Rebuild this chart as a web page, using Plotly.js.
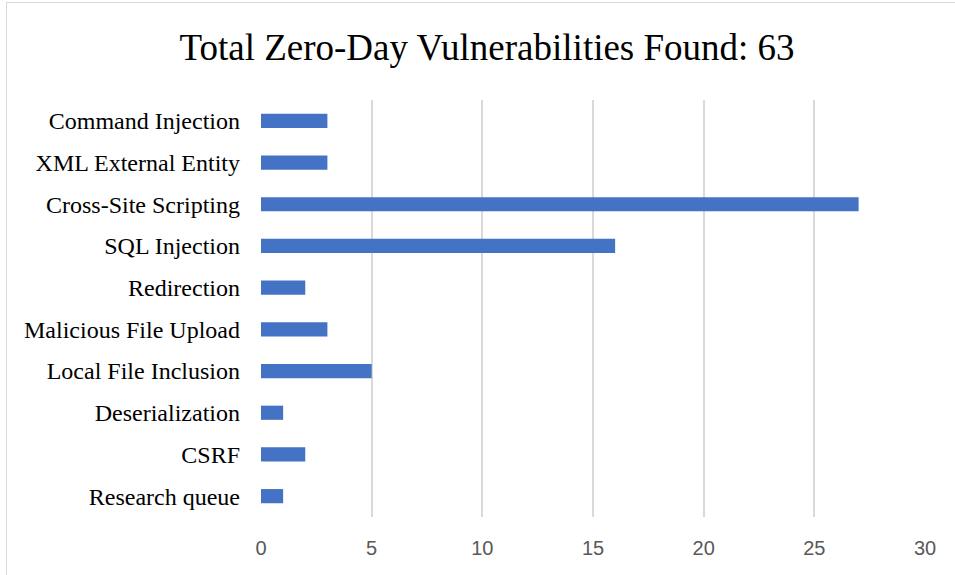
<!DOCTYPE html>
<html>
<head>
<meta charset="utf-8">
<script src="https://cdn.plot.ly/plotly-3.0.1.min.js"></script>
<style>
body{margin:0;padding:0;background:#fff;}
#wrap{position:relative;width:955px;height:575px;overflow:hidden;}
#chart{width:955px;height:575px;}
#frame{position:absolute;left:6px;top:2px;width:1000px;height:1000px;border:1.5px solid #d9d9d9;pointer-events:none;}
</style>
</head>
<body>
<div id="wrap"><div id="chart"></div><div id="frame"></div></div>
<script>
const categories = ["Research queue","CSRF","Deserialization","Local File Inclusion","Malicious File Upload","Redirection","SQL Injection","Cross-Site Scripting","XML External Entity","Command Injection"];
const counts = [1,2,1,5,3,2,16,27,3,3];
const titleText = "Total Zero-Day Vulnerabilities Found: 63";
const xTicks = [0,5,10,15,20,25,30];

Plotly.newPlot('chart',[{
  type:'bar',
  orientation:'h',
  y:categories,
  x:counts,
  marker:{color:'#4472c4'},
  hoverinfo:'x+y'
}],{
  width:955,height:575,
  margin:{l:261,r:30,t:100,b:58},
  paper_bgcolor:'#fff',plot_bgcolor:'#fff',
  bargap:0.66,
  title:{text:titleText,font:{family:'Liberation Serif, Times New Roman, serif',size:37,color:'#000'},x:0.51,xanchor:'center',y:0.918,yanchor:'middle'},
  xaxis:{range:[0,30],tickvals:xTicks,ticktext:xTicks.map(String),showgrid:true,gridcolor:'#d9d9d9',gridwidth:1.5,zeroline:false,showline:false,
    tickfont:{family:'Liberation Sans, Arial, sans-serif',size:20,color:'#595959'},ticks:'',ticklabelstandoff:17},
  yaxis:{type:'category',categoryorder:'array',categoryarray:categories,showgrid:false,zeroline:false,showline:false,ticks:'',
    tickfont:{family:'Liberation Serif, Times New Roman, serif',size:24,color:'#000'},ticklabelstandoff:20},
  showlegend:false
},{displayModeBar:false,staticPlot:false});
</script>
</body>
</html>
